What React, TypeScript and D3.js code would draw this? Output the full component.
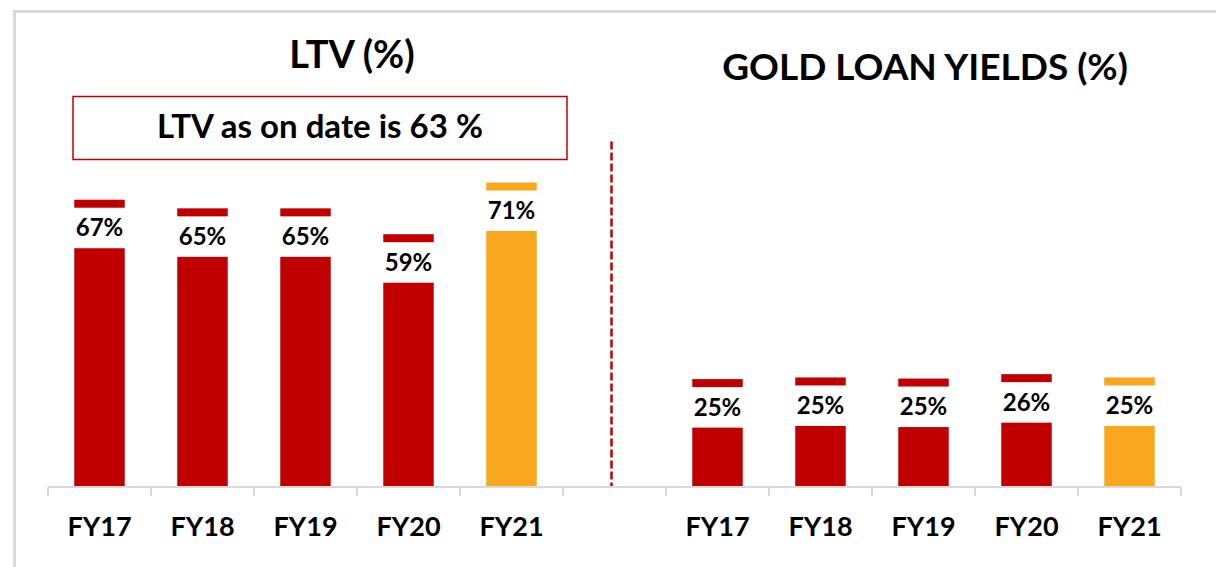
import React from 'react';
import * as d3 from 'd3';

// chart data
const years = ['FY17', 'FY18', 'FY19', 'FY20', 'FY21'];
const ltvValues = [67, 65, 65, 59, 71];
const yieldValues = [24.6, 25.2, 24.8, 26.4, 25.2];
const ltvTitle = 'LTV (%)';
const yieldTitle = 'GOLD LOAN YIELDS (%)';
const ltvNote = 'LTV as on date is 63 %';

const RED = '#C00000';
const ORANGE = '#F9A71F';
const GRID = '#D9D9D9';
const FONT = 'Lato, "Open Sans", sans-serif';

const W = 1216;
const H = 567;

const App = () => {
  const baseY = 487;
  // 11 slots: 5 LTV years, one blank gap, 5 yield years
  const slots = [...years.map(y => 'L-' + y), 'gap', ...years.map(y => 'Y-' + y)];
  const x = d3.scaleBand<string>().domain(slots).range([48, 1181]).padding(0);
  const step = x.step();
  const barW = step * 0.49;

  const yLtv = d3.scaleLinear().domain([11.6, 100]).range([baseY, 106]);
  const yYield = d3.scaleLinear().domain([3, 43]).range([baseY, 377]);

  const capGap = 40.5;
  const capH = 8;

  const bars = [
    ...ltvValues.map((v, i) => ({ key: 'L-' + years[i], v, y: yLtv(v), last: i === years.length - 1 })),
    ...yieldValues.map((v, i) => ({ key: 'Y-' + years[i], v, y: yYield(v), last: i === years.length - 1 })),
  ];

  const ticks = d3.range(slots.length + 1).map(i => 48 + i * step);

  return (
    <svg width={W} height={H} style={{ position: 'absolute', left: 0, top: 0, background: '#fff' }}>
      {/* outer frame */}
      <rect x={14.5} y={11.5} width={W + 20} height={H + 20} fill="none" stroke={GRID} strokeWidth={3} />

      {/* titles */}
      <text x={352} y={58} textAnchor="middle" dominantBaseline="middle" fontFamily={FONT} fontWeight={700} fontSize={38}>
        {ltvTitle}
      </text>
      <text x={925} y={71} textAnchor="middle" dominantBaseline="middle" fontFamily={FONT} fontWeight={700} fontSize={37}>
        {yieldTitle}
      </text>

      {/* note box */}
      <rect x={73} y={96.5} width={494} height={63} fill="#fff" stroke={RED} strokeWidth={1.5} />
      <text x={320} y={130} textAnchor="middle" dominantBaseline="middle" fontFamily={FONT} fontWeight={700} fontSize={33}>
        {ltvNote}
      </text>

      {/* divider */}
      <line x1={611.5} x2={611.5} y1={141.5} y2={baseY} stroke={RED} strokeWidth={2.5} strokeDasharray="8 3" />

      {/* bars with caps */}
      {bars.map(b => {
        const cx = (x(b.key) as number) + step / 2;
        const fill = b.last ? ORANGE : RED;
        return (
          <g key={b.key}>
            <rect x={cx - barW / 2} y={b.y} width={barW} height={baseY - b.y} fill={fill} />
            <rect x={cx - barW / 2} y={b.y - capGap - capH} width={barW} height={capH} fill={fill} />
            <text x={cx} y={b.y - capGap / 2 + 2} textAnchor="middle" dominantBaseline="middle"
              fontFamily={FONT} fontWeight={700} fontSize={24} fill="#000">
              {Math.round(b.v) + '%'}
            </text>
          </g>
        );
      })}

      {/* category axis */}
      <line x1={48} x2={1181} y1={baseY} y2={baseY} stroke={GRID} strokeWidth={2} />
      {ticks.map((t, i) => (
        <line key={i} x1={t} x2={t} y1={baseY} y2={baseY + 9} stroke={GRID} strokeWidth={2} />
      ))}
      {slots.filter(s => s !== 'gap').map(s => (
        <text key={s} x={(x(s) as number) + step / 2} y={529} textAnchor="middle" dominantBaseline="middle"
          fontFamily={FONT} fontWeight={700} fontSize={27} fill="#000">
          {s.slice(2)}
        </text>
      ))}
    </svg>
  );
};

export default App;
